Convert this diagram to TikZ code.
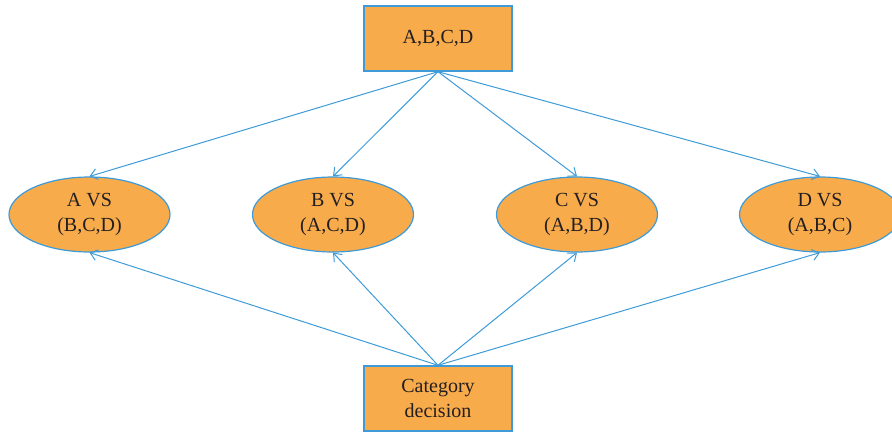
\documentclass[tikz,border=0pt]{standalone}
\usepackage{fontspec}
\setmainfont{LiberationSerif}[Extension=.ttf,UprightFont=*-Regular,BoldFont=*-Bold]
\usetikzlibrary{arrows.meta,shapes.geometric}
\definecolor{boxfill}{HTML}{F8AB4B}
\definecolor{edge}{HTML}{3E9BD8}
\definecolor{txt}{HTML}{231F20}
\begin{document}
\begin{tikzpicture}[x=1pt,y=-1pt,
  every node/.style={font=\rmfamily\fontsize{20}{25}\selectfont, text=txt, align=center, inner sep=0pt},
  rectbox/.style={draw=edge, line width=1.4pt, fill=boxfill, minimum width=148pt, minimum height=65pt},
  ellbox/.style={ellipse, draw=edge, line width=1.2pt, fill=boxfill, minimum width=161pt, minimum height=75pt},
  conn/.style={draw=edge, line width=1pt, -{Straight Barb[length=7pt,width=11pt]}}]
\useasboundingbox (0,0) rectangle (892,432);
\node[rectbox] (top) at (438,38.5) {A,B,C,D};
\node[rectbox] (bot) at (438,398.5) {Category\\decision};
\node[ellbox] (a) at (89.5,214.5) {A VS\\(B,C,D)};
\node[ellbox] (b) at (333,214.5) {B VS\\(A,C,D)};
\node[ellbox] (c) at (577,214.5) {C VS\\(A,B,D)};
\node[ellbox] (d) at (820,214.5) {D VS\\(A,B,C)};
\foreach \n in {a,b,c,d}{
  \draw[conn] (top.south) -- (\n.north);
  \draw[conn] (bot.north) -- (\n.south);
}
\end{tikzpicture}
\end{document}
